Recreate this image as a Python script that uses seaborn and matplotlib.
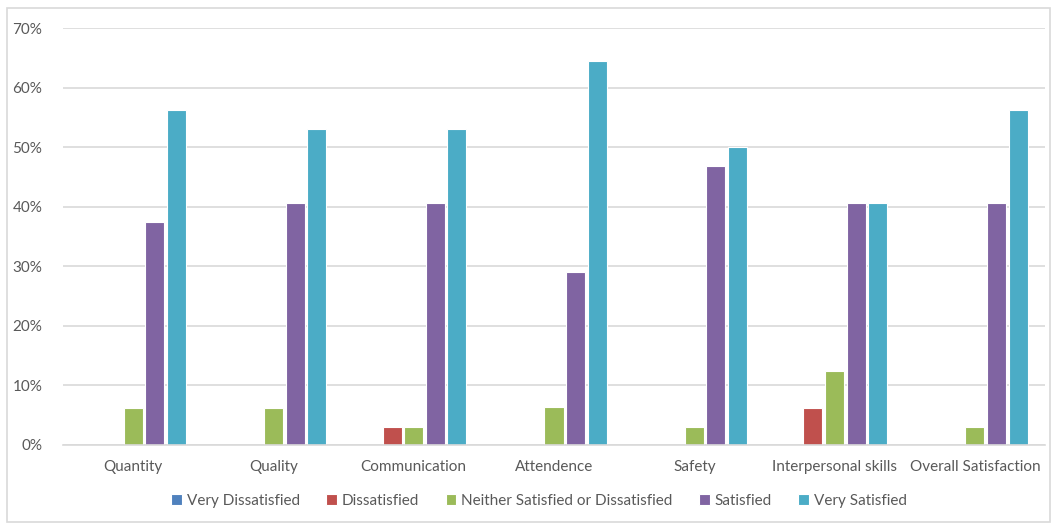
import matplotlib
matplotlib.use("Agg")
import matplotlib.pyplot as plt
import seaborn as sns
import pandas as pd
from matplotlib.patches import Rectangle
from matplotlib.ticker import PercentFormatter, MultipleLocator

categories = ["Quantity", "Quality", "Communication", "Attendence", "Safety",
              "Interpersonal skills", "Overall Satisfaction"]
series = ["Very Dissatisfied", "Dissatisfied", "Neither Satisfied or Dissatisfied",
          "Satisfied", "Very Satisfied"]
very_dissatisfied = [0, 0, 0, 0, 0, 0, 0]
dissatisfied = [0, 0, 3.1, 0, 0, 6.25, 0]
neither = [6.25, 6.25, 3.1, 6.45, 3.1, 12.5, 3.1]
satisfied = [37.5, 40.6, 40.6, 29.0, 46.9, 40.6, 40.6]
very_satisfied = [56.25, 53.1, 53.1, 64.5, 50.0, 40.6, 56.25]
colors = ["#4F81BD", "#C0504D", "#9BBB59", "#8064A2", "#4BACC6"]

rows = []
for s, vals in zip(series, [very_dissatisfied, dissatisfied, neither, satisfied, very_satisfied]):
    for c, v in zip(categories, vals):
        rows.append({"Category": c, "Series": s, "Value": v})
df = pd.DataFrame(rows)

sns.set_theme(style="white")
plt.rcParams["font.family"] = ["Lato", "DejaVu Sans"]

fig = plt.figure(figsize=(10.56, 5.25), dpi=100)
ax = fig.add_axes([63/1056, 1 - 445/525, (1045-63)/1056, (445-28)/525])

sns.barplot(data=df, x="Category", y="Value", hue="Series", hue_order=series,
            order=categories, palette=colors, saturation=1, width=0.77, gap=0.12,
            edgecolor="white", linewidth=0.8, ax=ax, legend=True)

ax.set_ylim(0, 70)
ax.set_xlim(-0.5, len(categories) - 0.5)
ax.yaxis.set_major_locator(MultipleLocator(10))
ax.yaxis.set_major_formatter(PercentFormatter(decimals=0))
ax.grid(axis="y", color="#D9D9D9", linewidth=1.2)
ax.set_axisbelow(True)
for sp in ["top", "right", "left"]:
    ax.spines[sp].set_visible(False)
ax.spines["bottom"].set_color("#D9D9D9")
ax.spines["bottom"].set_linewidth(1.2)
ax.set_xlabel("")
ax.set_ylabel("")
ax.tick_params(axis="both", length=0, labelsize=11, labelcolor="#595959")
ax.tick_params(axis="x", pad=11)
ax.tick_params(axis="y", pad=15)

handles, labels = ax.get_legend_handles_labels()
ax.legend_.remove()
fig.legend(handles, labels, loc="center", bbox_to_anchor=(539/1056, 1 - 501/525),
           ncol=5, frameon=False, fontsize=11, labelcolor="#595959",
           handlelength=0.7, handleheight=0.7, handletextpad=0.3, columnspacing=1.75)

fig.add_artist(Rectangle((7/1056, 3/525), 1043/1056, 514/525, transform=fig.transFigure,
                         fill=False, edgecolor="#D9D9D9", linewidth=1.2))

fig.savefig("out.png", dpi=100)
